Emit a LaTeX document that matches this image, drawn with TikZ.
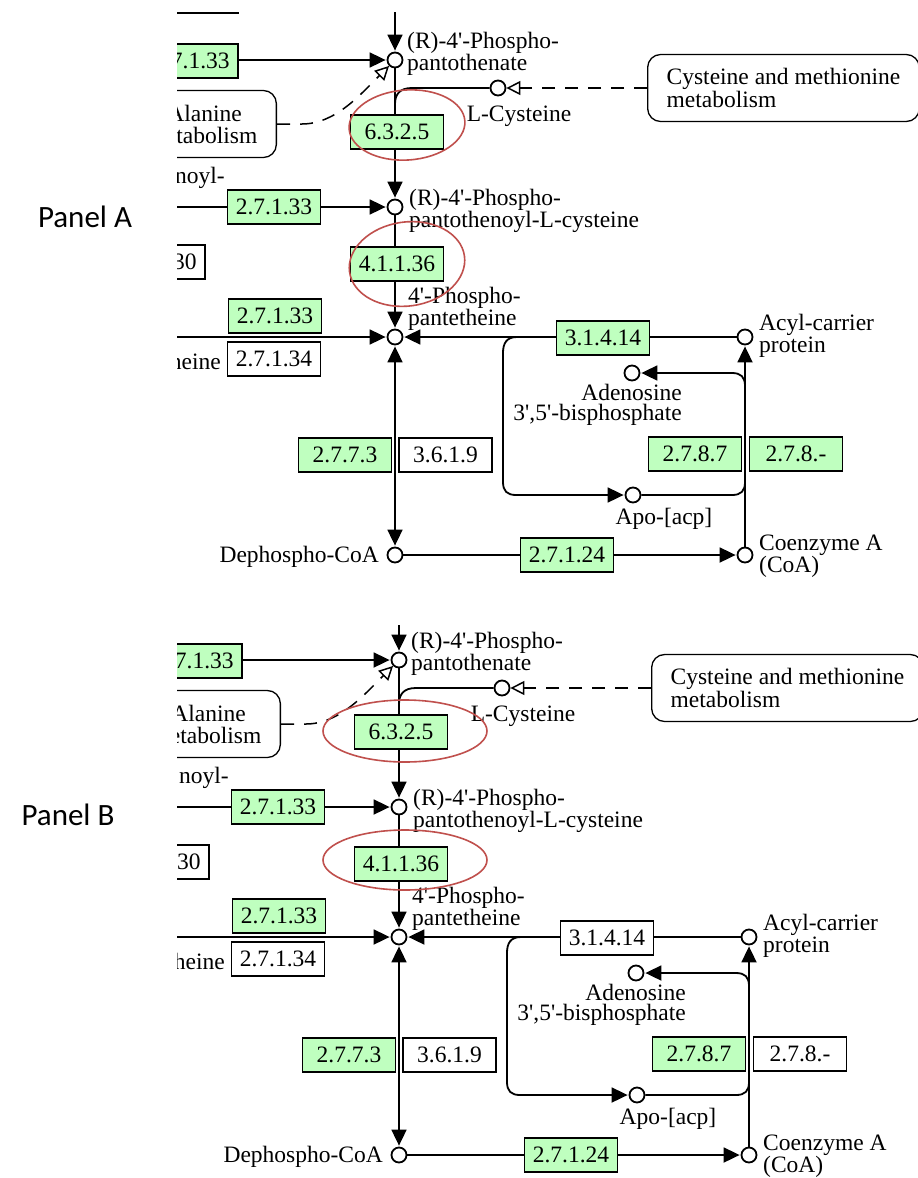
\documentclass[tikz,border=0pt]{standalone}
\usepackage{fontspec}
\usetikzlibrary{arrows.meta}
\newfontfamily\kegg{Liberation Serif}
\newfontfamily\panelfont{Carlito}
\definecolor{ecgreen}{RGB}{191,255,191}
\definecolor{ovalred}{RGB}{192,80,77}
\newcommand\kq{\textquotesingle}

\tikzset{
 kfont/.style={font=\kegg\fontsize{23.5}{20.5}\selectfont},
 cpd/.style={circle,draw,fill=white,line width=1.8pt,minimum size=15pt,inner sep=0pt},
 ecbox/.style={draw,line width=1.6pt,minimum width=93pt,minimum height=34pt,inner sep=0pt,kfont},
 lbl/.style={kfont,inner sep=0pt,align=left},
 mapbox/.style={draw,line width=1.3pt,rounded corners=13pt,kfont,align=left,inner xsep=19pt,minimum height=67pt},
 rline/.style={line width=1.8pt},
 arr/.style={rline,-{Triangle[length=16pt,width=15pt]},shorten >=1pt},
 darr/.style={rline,{Triangle[length=16pt,width=15pt]}-{Triangle[length=16pt,width=15pt]},shorten >=1pt,shorten <=1pt},
 dashline/.style={line width=1.5pt,dash pattern=on 13pt off 10pt},
 openarr/.style={-{Triangle[open,length=14pt,width=14pt,line width=1.5pt]}},
 oval/.style={draw=ovalred,line width=1.6pt},
 paneltag/.style={font=\panelfont\fontsize{31}{33}\selectfont,inner sep=0pt},
}

\newcommand\keggpanel[2]{%
 \node[ecbox,fill=white] (e0) at (191.5,-4) {};
 \node[cpd] (c1) at (395,60) {};
 \coordinate (top) at (395,-40);
 \draw[arr] (top) -- (c1);
 \coordinate (w1) at (120,60);
 \draw[arr] (w1) -- (c1);
 \node[ecbox,fill=ecgreen] (e1) at (191.5,61) {2.7.1.33};
 \node[lbl,anchor=west] (l1) at (407,54) {(R)-4\kq-Phospho-\\pantothenate};
 \node[mapbox,anchor=east] (ala) at (277,124) {β-Alanine\\metabolism};
 \coordinate (ad1) at (302,124);
 \draw[dashline,openarr] (ala.east) -- (ad1) .. controls (335,124) and (360,95) .. (c1);
 \node[cpd] (c2) at (395,207) {};
 \draw[arr] (c1) -- (c2);
 \node[ecbox,fill=ecgreen] (e2) at (397,132) {6.3.2.5};
 \node[cpd] (cys) at (498,88) {};
 \node[lbl] (lcys) at (519,116) {L-Cysteine};
 \coordinate (cy1) at (412,88);
 \coordinate (cy2) at (395,104);
 \draw[rline] (cys) -- (cy1) .. controls (400,88) and (395,94) .. (cy2);
 \node[mapbox,anchor=west] (cmet) at (647,88) {Cysteine and methionine\\metabolism};
 \draw[dashline,openarr] (cmet.west) -- (cys);
 \coordinate (w2) at (120,207);
 \draw[arr] (w2) -- (c2);
 \node[ecbox,fill=ecgreen] (e3) at (274,207) {2.7.1.33};
 \node[lbl,anchor=base east] (noyl) at (225,183) {noyl-};
 \node[lbl,anchor=west] (l2) at (409,211) {(R)-4\kq-Phospho-\\pantothenoyl-L-cysteine};
 \node[ecbox,fill=white] (e4) at (158.5,262) {2.7.1.30};
 \node[cpd] (c3) at (395,337) {};
 \draw[arr] (c2) -- (c3);
 \node[ecbox,fill=ecgreen] (e5) at (397,264) {4.1.1.36};
 \node[lbl,anchor=west] (l3) at (408,309) {4\kq-Phospho-\\pantetheine};
 \coordinate (w3) at (120,337);
 \draw[arr] (w3) -- (c3);
 \node[ecbox,fill=ecgreen] (e6) at (275,316) {2.7.1.33};
 \node[ecbox,fill=white] (e7) at (274,359) {2.7.1.34};
 \node[lbl,anchor=base east] (ptt) at (221,369) {Pantetheine};
 \node[cpd] (acp) at (745,337) {};
 \node[lbl,anchor=west] (lacp) at (759,336) {Acyl-carrier\\protein};
 \draw[arr] (acp) -- (c3);
 \node[ecbox,fill=#1] (e8) at (603,338) {3.1.4.14};
 \node[cpd] (apo) at (633,495) {};
 \node[lbl] (lapo) at (664,519) {Apo-[acp]};
 \coordinate (lp1) at (517,337);
 \coordinate (lp2) at (503,353);
 \coordinate (lp3) at (503,482);
 \coordinate (lp4) at (516,495);
 \draw[arr] (lp1) .. controls (506,337) and (503,344) .. (lp2) -- (lp3) .. controls (503,491) and (507,495) .. (lp4) -- (apo);
 \node[cpd] (coa) at (745,555) {};
 \draw[arr] (coa) -- (acp);
 \coordinate (rp1) at (732,495);
 \coordinate (rp2) at (745,482);
 \draw[rline] (apo) -- (rp1) .. controls (741,495) and (745,491) .. (rp2);
 \node[cpd] (ade) at (632,373) {};
 \coordinate (ap1) at (745,386);
 \coordinate (ap2) at (732,373);
 \draw[arr] (ap1) .. controls (745,377) and (741,373) .. (ap2) -- (ade);
 \node[lbl,align=right,anchor=east] (lade) at (682,405) {Adenosine\\3\kq,5\kq-bisphosphate};
 \node[ecbox,fill=ecgreen] (e9) at (695,454) {2.7.8.7};
 \node[ecbox,fill=#2] (e10) at (796,454) {2.7.8.-};
 \node[lbl,anchor=west] (lcoa) at (759,556) {Coenzyme A\\(CoA)};
 \node[cpd] (dcoa) at (395,555) {};
 \node[lbl,anchor=east] (ldcoa) at (379,557) {Dephospho-CoA};
 \draw[arr] (dcoa) -- (coa);
 \node[ecbox,fill=ecgreen] (e11) at (567,555) {2.7.1.24};
 \draw[darr] (c3) -- (dcoa);
 \node[ecbox,fill=ecgreen] (e12) at (345,455) {2.7.7.3};
 \node[ecbox,fill=white] (e13) at (445.5,455) {3.6.1.9};
}

\begin{document}
\begin{tikzpicture}[x=1pt,y=-1pt]
\useasboundingbox[fill=white] (0,0) rectangle (918,1178);
\begin{scope}
 \clip (177,12) rectangle (918,592);
 \begin{scope}[name prefix=A-]
  \keggpanel{ecgreen}{ecgreen}
 \end{scope}
\end{scope}
\begin{scope}
 \clip (177,625) rectangle (918,1178);
 \begin{scope}[shift={(4,600)},name prefix=B-]
  \keggpanel{white}{white}
 \end{scope}
\end{scope}
\draw[oval,rotate around={4:(407,125)}] (407,125) ellipse [x radius=58, y radius=35];
\draw[oval,rotate around={8:(407,264)}] (407,264) ellipse [x radius=58, y radius=42];
\draw[oval] (405,731) ellipse [x radius=82, y radius=31];
\draw[oval] (405,860) ellipse [x radius=82, y radius=30];
\node[paneltag] (tagA) at (85,217) {Panel A};
\node[paneltag] (tagB) at (68,815) {Panel B};
\end{tikzpicture}
\end{document}
